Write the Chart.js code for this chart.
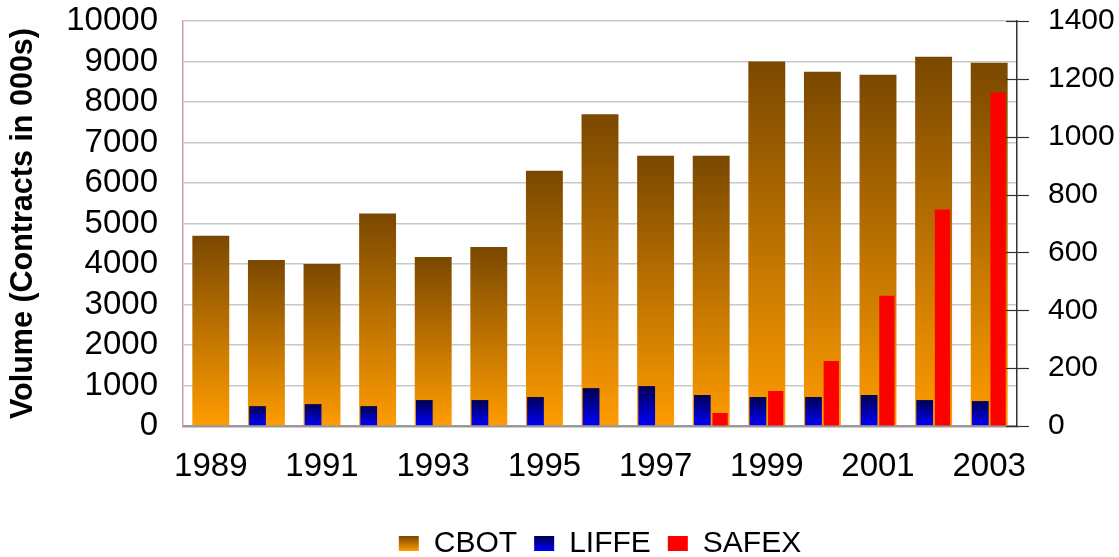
<!DOCTYPE html>
<html><head><meta charset="utf-8">
<script src="https://cdn.jsdelivr.net/npm/chart.js@4"></script>
<style>html,body{margin:0;padding:0;background:#fff}</style>
</head><body>
<canvas id="c" width="1119" height="557"></canvas>
<script>
const years = ['1989','1990','1991','1992','1993','1994','1995','1996','1997','1998','1999','2000','2001','2002','2003'];
const cbot  = [4700,4100,4000,5250,4170,4420,6300,7700,6670,6670,9000,8750,8670,9120,8970];
const liffe = [null,490,540,490,640,640,715,935,985,765,715,715,765,640,615];
const safex = [null,null,null,null,null,null,null,null,null,45,121,225,450,748,1153];
const leftTickStep = 1000, leftMax = 10000;
const rightTickStep = 200, rightMax = 1400;

const GRADS = {cbot:['#7a4800','#ff9c00'], liffe:['#000050','#0000ff']};

function barGradient(axisId, c0, c1){
  return function(ctx){
    if (ctx.type !== 'data') return c1;
    const chart = ctx.chart, sc = chart.scales[axisId];
    if (!sc || !chart.chartArea || ctx.raw == null) return c1;
    const top = sc.getPixelForValue(ctx.raw), bot = sc.getPixelForValue(0);
    if (!isFinite(top) || !isFinite(bot) || top === bot) return c1;
    const g = chart.ctx.createLinearGradient(0, top, 0, bot);
    g.addColorStop(0, c0); g.addColorStop(1, c1);
    return g;
  };
}

const legendGrad = {
  id: 'legendGrad',
  beforeDraw(chart){
    const lg = chart.legend;
    if (!lg || !lg.legendItems || !lg.legendHitBoxes) return;
    const g = [GRADS.cbot, GRADS.liffe, null];
    lg.legendItems.forEach((it, i) => {
      const hb = lg.legendHitBoxes[i], cs = g[it.datasetIndex];
      if (!hb || !cs) return;
      const bh = 15, top = hb.top + (hb.height - bh) / 2;
      const gr = chart.ctx.createLinearGradient(0, top, 0, top + bh);
      gr.addColorStop(0, cs[0]); gr.addColorStop(1, cs[1]);
      it.fillStyle = gr;
    });
  }
};

const rightTicks = {
  id: 'rightTicks',
  afterDraw(chart){
    const s = chart.scales.y1, c = chart.ctx;
    c.save(); c.strokeStyle = '#333'; c.lineWidth = 1.2;
    s.ticks.forEach((t, i) => {
      const y = Math.round(s.getPixelForTick(i)) + 0.5;
      c.beginPath(); c.moveTo(s.left - 11, y); c.lineTo(s.left + 12, y); c.stroke();
    });
    c.restore();
  }
};

Chart.defaults.font.family = "'Liberation Sans', Arial, sans-serif";
Chart.defaults.color = '#000';

new Chart(document.getElementById('c'), {
  type: 'bar',
  data: {
    labels: years,
    datasets: [
      {label:'CBOT', data: cbot, yAxisID:'y', grouped:false, order:2,
       categoryPercentage:0.8, barPercentage:0.83,
       backgroundColor: barGradient('y', GRADS.cbot[0], GRADS.cbot[1])},
      {label:'LIFFE', data: liffe, yAxisID:'y', order:1,
       categoryPercentage:0.64, barPercentage:0.94,
       backgroundColor: barGradient('y', GRADS.liffe[0], GRADS.liffe[1])},
      {label:'SAFEX', data: safex, yAxisID:'y1', order:1,
       categoryPercentage:0.64, barPercentage:0.86,
       backgroundColor:'#ff0000'}
    ]
  },
  options: {
    responsive:false, animation:false, devicePixelRatio:1,
    layout:{padding:{top:21, right:0, left:0, bottom:-11.5}},
    plugins:{
      tooltip:{enabled:false},
      legend:{position:'bottom', fullSize:false,
        labels:{font:{size:30}, boxWidth:20, boxHeight:15, padding:17,
          sort:(a,b)=>a.datasetIndex-b.datasetIndex}}
    },
    scales:{
      x:{
        grid:{display:false, drawTicks:false},
        border:{display:true, color:'#999999', width:2.5},
        ticks:{autoSkip:false, maxRotation:0, padding:21, font:{size:33},
          callback:(v,i)=> i % 2 === 0 ? years[i] : ''},
        afterFit:(s)=>{ s.height = 85.5; }
      },
      y:{
        position:'left', min:0, max:leftMax,
        ticks:{stepSize:leftTickStep, autoSkip:false, padding:0, font:{size:33},
          callback:(v)=>String(v)},
        grid:{color:'#c8c8c8', lineWidth:1.5, drawTicks:true, tickLength:25, tickColor:'rgba(0,0,0,0)'},
        border:{display:true, color:'#c8a4a4', width:1.5},
        title:{display:true, text:'Volume (Contracts in 000s)',
          font:{size:30.5, weight:'bold', lineHeight:1}, padding:{top:8, bottom:0}},
        afterFit:(s)=>{ s.width = 183; }
      },
      y1:{
        position:'right', min:0, max:rightMax,
        ticks:{stepSize:rightTickStep, autoSkip:false, padding:0, font:{size:30},
          callback:(v)=>String(v)},
        grid:{drawOnChartArea:false, drawTicks:true, tickLength:31, tickColor:'rgba(0,0,0,0)'},
        border:{display:true, color:'#333', width:1.5},
        afterFit:(s)=>{ s.width = 102; }
      }
    }
  },
  plugins:[legendGrad, rightTicks]
});
</script>
</body></html>
